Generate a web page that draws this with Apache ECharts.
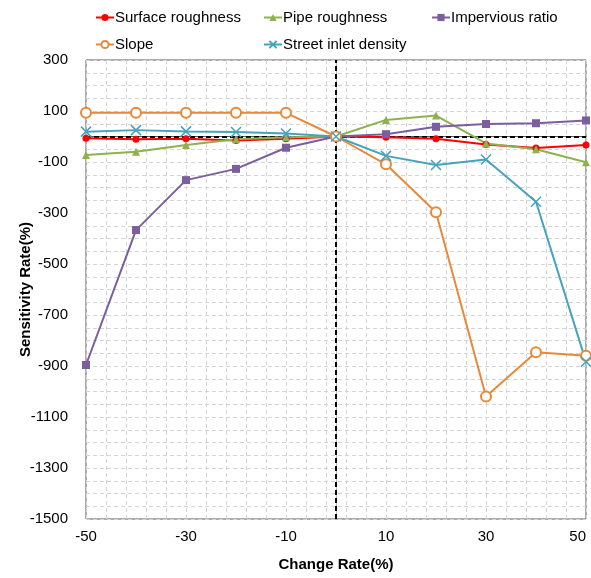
<!DOCTYPE html>
<html>
<head>
<meta charset="utf-8">
<script src="https://cdn.jsdelivr.net/npm/echarts@6/dist/echarts.min.js"></script>
<style>
  html, body { margin: 0; padding: 0; background: #fff; }
  #chart { width: 591px; height: 578px; }
</style>
</head>
<body>
<div id="chart"></div>
<script>
// change rate (%) on x axis
const changeRates = [-50, -40, -30, -20, -10, 0, 10, 20, 30, 40, 50]

const surfaceRoughness = [-7, -11, -9, -16, -9, 0, -3, -9, -31, -45, -33]
const pipeRoughness = [-73, -60, -33, -11, -3, 0, 65, 82, -27, -50, -101]
const imperviousRatio = [-896, -367, -171, -127, -44, 0, 9, 38, 49, 52, 63]
const slope = [93, 93, 93, 93, 93, 0, -109, -297, -1020, -846, -860]
const streetInletDensity = [19, 25, 20, 18, 12, 0, -76, -112, -90, -256, -883]

const xTickLabels = [-50, -30, -10, 10, 30, 50]
const yTickLabels = [300, 100, -100, -300, -500, -700, -900, -1100, -1300, -1500]

const font = 'Liberation Sans, Arial, sans-serif'
const gridColor = '#d4d4d4'

const pairs = (ys) => changeRates.map((x, i) => [x, ys[i]])

const chart = echarts.init(document.getElementById('chart'))

const lineSeries = (name, data, color, symbol, size, extra) => Object.assign({
  name: name,
  type: 'line',
  data: pairs(data),
  symbol: symbol,
  symbolSize: size,
  lineStyle: { color: color, width: 2 },
  itemStyle: { color: color },
  z: 3
}, extra || {})

chart.setOption({
  animation: false,
  textStyle: { fontFamily: font },
  legend: [
    { data: ['Surface roughness', 'Slope'], left: 95, top: 10 },
    { data: ['Pipe roughness', 'Street inlet density'], left: 263, top: 10 },
    { data: ['Impervious ratio'], left: 431, top: 10 }
  ].map(l => Object.assign(l, {
    orient: 'vertical',
    padding: 0,
    itemGap: 12,
    itemWidth: 18,
    itemHeight: 9,
    textStyle: { fontFamily: font, fontSize: 15, color: '#000', padding: [0, 0, 0, -4] }
  })),
  grid: {
    left: 86,
    right: 5,
    top: 60,
    bottom: 59,
    outerBoundsMode: 'none',
    show: true,
    borderColor: '#595959',
    borderWidth: 1
  },
  xAxis: [
    {
      type: 'value',
      min: -50,
      max: 50,
      interval: 10,
      name: 'Change Rate(%)',
      nameLocation: 'middle',
      nameGap: 38,
      nameMoveOverlap: false,
      nameTextStyle: { fontFamily: font, fontSize: 15, fontWeight: 'bold', color: '#000' },
      axisLine: { lineStyle: { color: '#595959' } },
      axisTick: { show: false },
      splitLine: { show: false },
      axisLabel: {
        margin: 10,
        fontSize: 15,
        color: '#000',
        alignMaxLabel: 'right',
        formatter: v => (xTickLabels.indexOf(v) >= 0 ? String(v) : '')
      }
    },
    {
      // helper axis that only draws the vertical grid lines (every 4 units from -50)
      type: 'value',
      min: 0,
      max: 100,
      interval: 4,
      position: 'bottom',
      show: true,
      axisLine: { show: false },
      axisTick: { show: false },
      axisLabel: { show: false },
      splitLine: { show: true, lineStyle: { color: gridColor, type: [4, 3] } }
    }
  ],
  yAxis: {
    type: 'value',
    min: -1500,
    max: 300,
    interval: 100,
    name: 'Sensitivity Rate(%)',
    nameLocation: 'middle',
    nameGap: 53,
    nameMoveOverlap: false,
    nameTextStyle: { fontFamily: font, fontSize: 15, fontWeight: 'bold', color: '#000' },
    axisLine: { show: true, lineStyle: { color: '#bfbfbf' } },
    axisTick: { show: false },
    axisLabel: {
      margin: 18,
      fontSize: 15,
      color: '#000',
      formatter: v => (yTickLabels.indexOf(v) >= 0 ? String(v) : '')
    },
    splitLine: { show: true, lineStyle: { color: gridColor, type: [4, 3] } },
    minorTick: { show: false, splitNumber: 2 },
    minorSplitLine: { show: true, lineStyle: { color: gridColor, type: [4, 3] } }
  },
  series: [
    lineSeries('Surface roughness', surfaceRoughness, '#ff0000', 'circle', 7, {
      markLine: {
        silent: true,
        symbol: 'none',
        label: { show: false },
        lineStyle: { color: '#000', type: [5, 3], width: 2 },
        data: [{ yAxis: 0 }, { xAxis: 0 }],
        z: 2
      }
    }),
    lineSeries('Pipe roughness', pipeRoughness, '#8db24e', 'triangle', 8),
    lineSeries('Impervious ratio', imperviousRatio, '#7a5e9e', 'rect', 8),
    lineSeries('Slope', slope, '#e8893a', 'emptyCircle', 10, {
      itemStyle: { color: '#e8893a', borderWidth: 2 }
    }),
    lineSeries('Street inlet density', streetInletDensity, '#45a3bd', 'path://M0,0L10,10M10,0L0,10', 10, {
      itemStyle: { color: '#45a3bd', borderColor: '#45a3bd', borderWidth: 1.5 }
    })
  ]
})
</script>
</body>
</html>
